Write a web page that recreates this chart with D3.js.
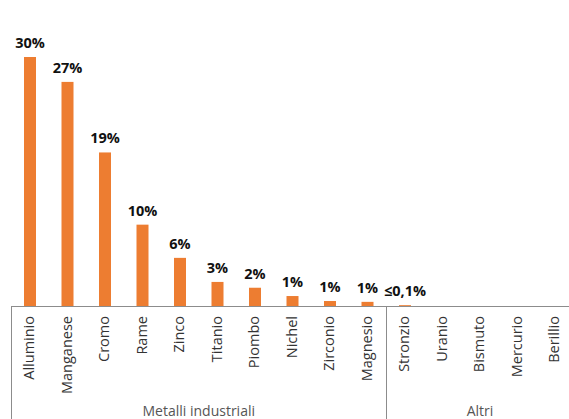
<!DOCTYPE html>
<html>
<head>
<meta charset="utf-8">
<script src="https://cdn.jsdelivr.net/npm/d3@7"></script>
<style>
  html, body { margin: 0; padding: 0; background: #fff; }
  svg { display: block; }
</style>
</head>
<body>
<svg id="chart" width="569" height="419"></svg>
<script>
// Elementi e quota percentuale
const categories = ["Alluminio", "Manganese", "Cromo", "Rame", "Zinco", "Titanio", "Piombo",
  "Nichel", "Zirconio", "Magnesio", "Stronzio", "Uranio", "Bismuto", "Mercurio", "Berillio"];
const values = [30, 27, 18.5, 9.8, 5.8, 2.9, 2.2, 1.2, 0.6, 0.5, 0.1, 0, 0, 0, 0];
const valueLabels = ["30%", "27%", "19%", "10%", "6%", "3%", "2%", "1%", "1%", "1%", "≤0,1%", "", "", "", ""];
const groups = [
  { name: "Metalli industriali", from: "Alluminio", to: "Magnesio" },
  { name: "Altri", from: "Stronzio", to: "Berillio" }
];

const svg = d3.select("#chart");
const baseY = 306;
const x = d3.scaleBand().domain(categories).range([11.25, 573.75]).paddingInner(0.68).paddingOuter(0.34);
const y = d3.scaleLinear().domain([0, 30]).range([baseY, 57]);

const data = categories.map((c, i) => ({ c, v: values[i], label: valueLabels[i] }));

// barre
svg.append("g").selectAll("rect").data(data).join("rect")
  .attr("x", d => x(d.c))
  .attr("width", x.bandwidth())
  .attr("y", d => y(d.v))
  .attr("height", d => baseY - y(d.v))
  .attr("fill", "#ED7D31");

// etichette dei valori
svg.append("g").selectAll("text").data(data.filter(d => d.label)).join("text")
  .attr("x", d => x(d.c) + x.bandwidth() / 2)
  .attr("y", d => y(d.v) - 9)
  .attr("text-anchor", "middle")
  .attr("font-family", "'Open Sans', sans-serif")
  .attr("font-weight", "bold")
  .attr("font-size", 14.5)
  .attr("fill", "#111")
  .text(d => d.label);

// asse orizzontale
const step = x.step();
const left = x.range()[0];
svg.append("line")
  .attr("x1", left).attr("x2", 569)
  .attr("y1", baseY + 0.5).attr("y2", baseY + 0.5)
  .attr("stroke", "#8c8c8c").attr("stroke-width", 1);

// etichette delle categorie, ruotate
svg.append("g").selectAll("text").data(categories).join("text")
  .attr("transform", c => `translate(${x(c) + x.bandwidth() / 2 + 4},${baseY + 10}) rotate(-90)`)
  .attr("text-anchor", "end")
  .attr("font-family", "'Open Sans', sans-serif")
  .attr("font-size", 14.5)
  .attr("fill", "#333")
  .text(c => c);

// separatori e nomi dei gruppi
const groupEdges = groups.map(g => ({
  name: g.name,
  x0: x(g.from) - x.paddingOuter() * step,
  x1: x(g.to) + x.bandwidth() + x.paddingOuter() * step
}));
const edges = [groupEdges[0].x0, groupEdges[0].x1];
svg.append("g").selectAll("line").data(edges).join("line")
  .attr("x1", d => Math.round(d) + 0.5).attr("x2", d => Math.round(d) + 0.5)
  .attr("y1", baseY).attr("y2", 419)
  .attr("stroke", "#8c8c8c").attr("stroke-width", 1);

svg.append("g").selectAll("text").data(groupEdges).join("text")
  .attr("x", d => (d.x0 + d.x1) / 2)
  .attr("y", 416)
  .attr("text-anchor", "middle")
  .attr("font-family", "'Open Sans', sans-serif")
  .attr("font-size", 14)
  .attr("fill", "#555")
  .text(d => d.name);
</script>
</body>
</html>
